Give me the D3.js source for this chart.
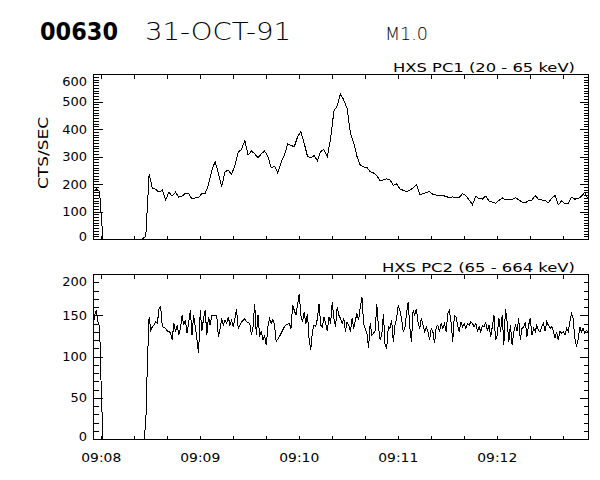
<!DOCTYPE html>
<html>
<head>
<meta charset="utf-8">
<script src="https://cdn.jsdelivr.net/npm/d3@7"></script>
<style>
  html, body { margin: 0; padding: 0; background: #fff; }
  svg { display: block; }
  text { fill: #000; }
</style>
</head>
<body>
<div id="chart"></div>
<script>
// ---------------- DATA ----------------
const titleId = "00630";
const titleDate = "31-OCT-91";
const titleClass = "M1.0";
const yAxisTitle = "CTS/SEC";
const pc1Label = "HXS PC1 (20 - 65 keV)";
const pc2Label = "HXS PC2 (65 - 664 keV)";

// time window (UTC) and sample steps in seconds
const startTime = "1991-10-31T09:07:55Z";
const endTime = "1991-10-31T09:12:55Z";
const pc1Step = 2;
const pc2Step = 1;

// x tick labels
const timeLabels = ["09:08", "09:09", "09:10", "09:11", "09:12"];

// y ticks
const pc1Ticks = [0, 100, 200, 300, 400, 500, 600];
const pc1TickLabels = ["0", "100", "200", "300", "400", "500", "600"];
const pc2Ticks = [0, 50, 100, 150, 200];
const pc2TickLabels = ["0", "50", "100", "150", "200"];

// HXS PC1 (20-65 keV), counts/sec, one value every 2 s
const pc1Counts = [
  172, 182, 172, 0, 0, 0, 0, 0, 0, 0, 0, 0, 0, 0, 0, 0, 10, 236, 184, 181,
  170, 178, 142, 170, 156, 170, 152, 156, 166, 166, 145, 150, 150, 166, 165, 198, 250, 281, 240, 190,
  245, 250, 235, 268, 315, 326, 358, 305, 320, 310, 295, 310, 320, 300, 258, 265, 240, 278, 306, 345,
  340, 336, 372, 390, 348, 300, 296, 303, 285, 318, 325, 300, 365, 465, 484, 528, 505, 475, 385, 350,
  300, 268, 262, 260, 245, 240, 230, 212, 215, 219, 215, 195, 200, 182, 177, 172, 178, 185, 198, 162,
  164, 170, 172, 162, 160, 157, 159, 154, 151, 153, 150, 152, 165, 158, 142, 125, 155, 147, 145, 156,
  138, 134, 130, 140, 150, 142, 142, 144, 150, 143, 134, 131, 140, 142, 158, 144, 142, 140, 132, 148,
  158, 125, 138, 128, 128, 152, 145, 147, 155, 170, 147
];

// HXS PC2 (65-664 keV), counts/sec, one value every 1 s
const pc2Counts = [
  134, 150, 156, 142, 136, 60, 0, 0, 0, 0, 0, 0, 0, 0, 0, 0, 0, 0, 0, 0,
  0, 0, 0, 0, 0, 0, 0, 0, 0, 0, 0, 0, 20, 95, 148, 132, 136, 138, 142, 140,
  158, 160, 136, 135, 134, 131, 130, 129, 120, 141, 130, 138, 126, 134, 150, 138, 144, 128, 142, 156,
  126, 150, 136, 120, 104, 156, 131, 146, 156, 126, 148, 138, 150, 150, 150, 150, 124, 134, 146, 138,
  144, 140, 148, 138, 144, 136, 146, 157, 134, 138, 142, 144, 146, 142, 141, 140, 126, 136, 164, 126,
  150, 124, 131, 120, 126, 114, 136, 146, 140, 145, 138, 118, 121, 124, 128, 132, 136, 138, 139, 140,
  134, 162, 156, 150, 163, 176, 150, 142, 154, 140, 152, 120, 108, 131, 138, 136, 146, 164, 138, 136,
  148, 140, 131, 148, 140, 166, 146, 136, 160, 150, 146, 140, 146, 130, 142, 138, 130, 146, 134, 144,
  152, 144, 160, 172, 140, 134, 128, 110, 140, 126, 128, 131, 164, 136, 120, 126, 152, 114, 110, 136,
  134, 144, 118, 138, 146, 162, 156, 146, 130, 134, 152, 166, 136, 118, 156, 150, 158, 142, 134, 146,
  138, 130, 136, 130, 120, 134, 130, 116, 136, 138, 130, 140, 134, 140, 130, 152, 156, 142, 118, 150,
  148, 138, 130, 142, 136, 140, 134, 140, 138, 142, 140, 136, 140, 131, 136, 130, 138, 136, 142, 131,
  138, 124, 136, 150, 120, 126, 146, 130, 150, 114, 158, 142, 118, 138, 114, 130, 138, 131, 146, 120,
  134, 136, 142, 124, 138, 146, 126, 134, 130, 138, 131, 130, 136, 140, 131, 142, 138, 134, 136, 131,
  122, 130, 120, 131, 128, 130, 126, 134, 130, 142, 152, 146, 122, 112, 120, 136, 130, 134, 128, 132,
  130
];

// ---------------- CHART ----------------
const W = 600, H = 480;
const svg = d3.select("#chart").append("svg").attr("width", W).attr("height", H);

const t0 = new Date(startTime), t1 = new Date(endTime);
const x = d3.scaleUtc().domain([t0, t1]).range([93, 588]);
const timeAt = (step) => (i) => new Date(t0.getTime() + i * step * 1000);

const font = "'DejaVu Sans', sans-serif";

// Title
svg.append("text").attr("x", 40).attr("y", 40)
  .attr("font-family", "'DejaVu Sans', sans-serif").attr("font-weight", "bold")
  .attr("font-size", 24).attr("textLength", 78).attr("lengthAdjust", "spacingAndGlyphs").text(titleId);
svg.append("text").attr("x", 145).attr("y", 40)
  .attr("font-family", "'DejaVu Sans', sans-serif").attr("font-weight", 200)
  .attr("font-size", 24).attr("textLength", 146).attr("lengthAdjust", "spacingAndGlyphs").text(titleDate);
svg.append("text").attr("x", 385).attr("y", 40)
  .attr("font-family", "'DejaVu Sans', sans-serif").attr("font-weight", 200)
  .attr("font-size", 17).attr("textLength", 43).attr("lengthAdjust", "spacingAndGlyphs").text(titleClass);

const panels = [
  { top: 74, bottom: 239, domain: [0, 600], ticks: pc1Ticks, labels: pc1TickLabels, minorStep: 10,
    data: pc1Counts, step: pc1Step, label: pc1Label, labelLen: 182 },
  { top: 274, bottom: 439, domain: [0, 200], ticks: pc2Ticks, labels: pc2TickLabels, minorStep: 10,
    data: pc2Counts, step: pc2Step, label: pc2Label, labelLen: 193 }
];

const xTicks = d3.utcSecond.every(20).range(new Date(t0.getTime() + 1), t1);

panels.forEach((p) => {
  const y = d3.scaleLinear().domain(p.domain).range([p.bottom, p.top]);
  const g = svg.append("g").attr("shape-rendering", "crispEdges");

  // frame
  g.append("rect").attr("x", 93.5).attr("y", p.top + 0.5)
    .attr("width", 588 - 93).attr("height", p.bottom - p.top)
    .attr("fill", "none").attr("stroke", "#000").attr("stroke-width", 1);

  // x ticks (inward) bottom and top
  const xb = g.append("g").attr("transform", `translate(0,${p.bottom + 0.5})`)
    .call(d3.axisBottom(x).tickValues(xTicks).tickSize(-4).tickFormat(""));
  const xt = g.append("g").attr("transform", `translate(0,${p.top + 0.5})`)
    .call(d3.axisTop(x).tickValues(xTicks).tickSize(-4).tickFormat(""));

  // y ticks major + minor, both sides
  const minor = d3.range(p.domain[0], p.domain[1] + 0.001, p.minorStep).filter(v => !p.ticks.includes(v));
  const yl = g.append("g").attr("transform", "translate(93.5,0)")
    .call(d3.axisLeft(y).tickValues(p.ticks).tickSize(-9).tickFormat(""));
  const ylm = g.append("g").attr("transform", "translate(93.5,0)")
    .call(d3.axisLeft(y).tickValues(minor).tickSize(-5).tickFormat(""));
  const yr = g.append("g").attr("transform", "translate(588.5,0)")
    .call(d3.axisRight(y).tickValues(p.ticks).tickSize(-9).tickFormat(""));
  const yrm = g.append("g").attr("transform", "translate(588.5,0)")
    .call(d3.axisRight(y).tickValues(minor).tickSize(-5).tickFormat(""));
  [xb, xt, yl, ylm, yr, yrm].forEach(a => {
    a.select(".domain").remove();
    a.selectAll("line").attr("stroke", "#000");
  });

  // y tick labels
  svg.append("g").selectAll("text").data(p.ticks).join("text")
    .attr("x", 87)
    .attr("y", (d) => Math.max(p.top + 7, Math.min(p.bottom - 3, y(d))))
    .attr("dy", "0.36em")
    .attr("text-anchor", "end")
    .attr("font-family", font).attr("font-size", 13)
    .text((d, i) => p.labels[i]);

  // panel label
  svg.append("text").attr("x", 575).attr("y", p.top - 2)
    .attr("text-anchor", "end")
    .attr("font-family", font).attr("font-size", 13)
    .attr("textLength", p.labelLen).attr("lengthAdjust", "spacingAndGlyphs")
    .text(p.label);

  // data line
  const ta = timeAt(p.step);
  const line = d3.line().x((d, i) => x(ta(i))).y((d) => y(d));
  svg.append("path").datum(p.data)
    .attr("d", line)
    .attr("fill", "none").attr("stroke", "#000").attr("stroke-width", 1)
    .attr("shape-rendering", "crispEdges");
});

// y axis title
svg.append("text")
  .attr("transform", "translate(48,153) rotate(-90)")
  .attr("text-anchor", "middle")
  .attr("font-family", font).attr("font-size", 14)
  .attr("textLength", 72).attr("lengthAdjust", "spacingAndGlyphs")
  .text(yAxisTitle);

// x time labels (whole minutes)
const fmt = d3.utcFormat("%H:%M");
const minuteTicks = d3.utcMinute.range(t0, t1);
svg.append("g").selectAll("text").data(minuteTicks).join("text")
  .attr("x", (d) => x(d))
  .attr("y", 462)
  .attr("text-anchor", "middle")
  .attr("font-family", font).attr("font-size", 13)
  .attr("textLength", 40).attr("lengthAdjust", "spacingAndGlyphs")
  .text((d, i) => timeLabels[i] !== undefined ? timeLabels[i] : fmt(d));
</script>
</body>
</html>
